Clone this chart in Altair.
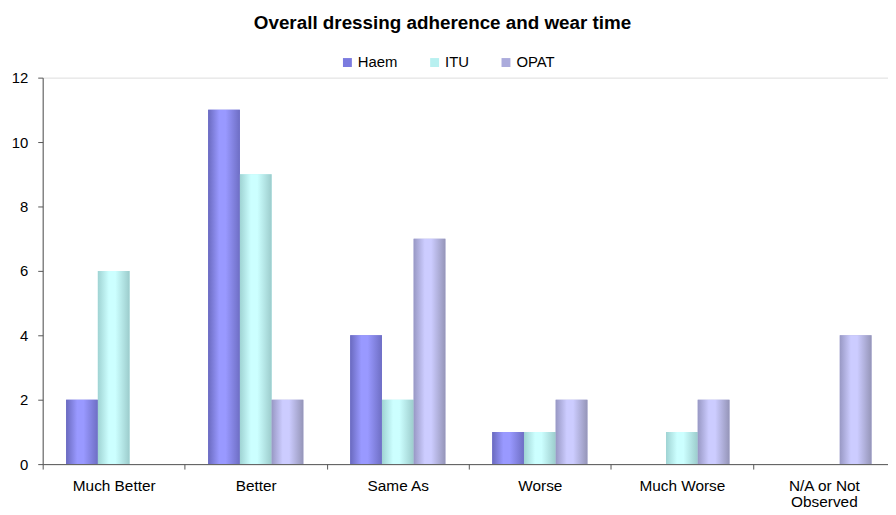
import altair as alt
import pandas as pd

categories = ["Much Better", "Better", "Same As", "Worse", "Much Worse", "N/A or Not Observed"]
series = ["Haem", "ITU", "OPAT"]
haem = [2, 11, 4, 1, 0, 0]
itu = [6, 9, 2, 1, 1, 0]
opat = [0, 2, 7, 2, 2, 4]
y_ticks = [0, 2, 4, 6, 8, 10, 12]
legend_colors = ["#7b7bdf", "#b8f0f0", "#ababdc"]
grad_colors = {
    "Haem": ["#6a6abf", "#9999ff", "#9999ff", "#6e6ec4"],
    "ITU": ["#9fd3d3", "#ccffff", "#ccffff", "#9ccccc"],
    "OPAT": ["#9898c4", "#ccccff", "#ccccff", "#9595b8"],
}

rows = []
for cat, h, i, o in zip(categories, haem, itu, opat):
    rows.append({"cat": cat, "series": "Haem", "value": h})
    rows.append({"cat": cat, "series": "ITU", "value": i})
    rows.append({"cat": cat, "series": "OPAT", "value": o})
df = pd.DataFrame(rows)

FONT = "Liberation Sans"
x_enc = alt.X(
    "cat:N",
    sort=categories,
    scale=alt.Scale(domain=categories, range=[0, 860], paddingInner=0.33, paddingOuter=0.165),
    axis=alt.Axis(
        title=None, labelAngle=0, bandPosition=0, tickOffset=-23.65, labelOffset=23.65,
        labelFontSize=15.5, labelFont=FONT, labelColor="#000000", labelPadding=10,
        labelLineHeight=16, tickSize=5, tickColor="#555555", domainColor="#555555",
        labelExpr="datum.label == 'N/A or Not Observed' ? ['N/A or Not', 'Observed'] : datum.label",
    ),
)
y_enc = alt.Y(
    "value:Q",
    scale=alt.Scale(domain=[0, 12], nice=False),
    axis=alt.Axis(
        title=None, grid=False, values=y_ticks, labelFontSize=15, labelFont=FONT,
        labelColor="#000000", labelPadding=10, tickSize=5, tickColor="#555555",
        domainColor="#555555",
    ),
)
xo_enc = alt.XOffset("series:N", scale=alt.Scale(domain=series, paddingInner=0, paddingOuter=0))

base = alt.Chart(df)

legend_layer = base.mark_bar(strokeWidth=0).encode(
    x=x_enc, y=y_enc, xOffset=xo_enc,
    color=alt.Color(
        "series:N",
        scale=alt.Scale(domain=series, range=legend_colors),
        legend=alt.Legend(
            title=None, orient="none", direction="horizontal", legendX=300, legendY=-23,
            symbolType="square", symbolSize=81, symbolStrokeWidth=0, labelFontSize=15,
            labelFont=FONT, labelColor="#000000", columnPadding=29, labelOffset=3, padding=0,
        ),
    ),
)

layers = [legend_layer]
for s in series:
    c = grad_colors[s]
    grad = alt.Gradient(
        gradient="linear",
        stops=[
            alt.GradientStop(color=c[0], offset=0),
            alt.GradientStop(color=c[1], offset=0.35),
            alt.GradientStop(color=c[2], offset=0.55),
            alt.GradientStop(color=c[3], offset=1),
        ],
        x1=0, x2=1, y1=0, y2=0,
    )
    layers.append(
        base.transform_filter(alt.datum.series == s)
        .mark_bar(fill=grad, strokeWidth=0)
        .encode(x=x_enc, y=y_enc, xOffset=xo_enc)
    )

chart = (
    alt.layer(*layers)
    .properties(
        width=853,
        height=390,
        autosize=alt.AutoSizeParams(type="none"),
        padding={"left": 35, "top": 68, "right": 0, "bottom": 41},
        title=alt.TitleParams(
            "Overall dressing adherence and wear time", fontSize=19, fontWeight="bold",
            font=FONT, color="#000000", anchor="middle", dx=-23, offset=7,
            baseline="alphabetic",
        ),
    )
    .configure_view(stroke=None)
    .configure(background="#ffffff")
)

chart.save("out.html", embed_options={"renderer": "svg", "actions": False})
